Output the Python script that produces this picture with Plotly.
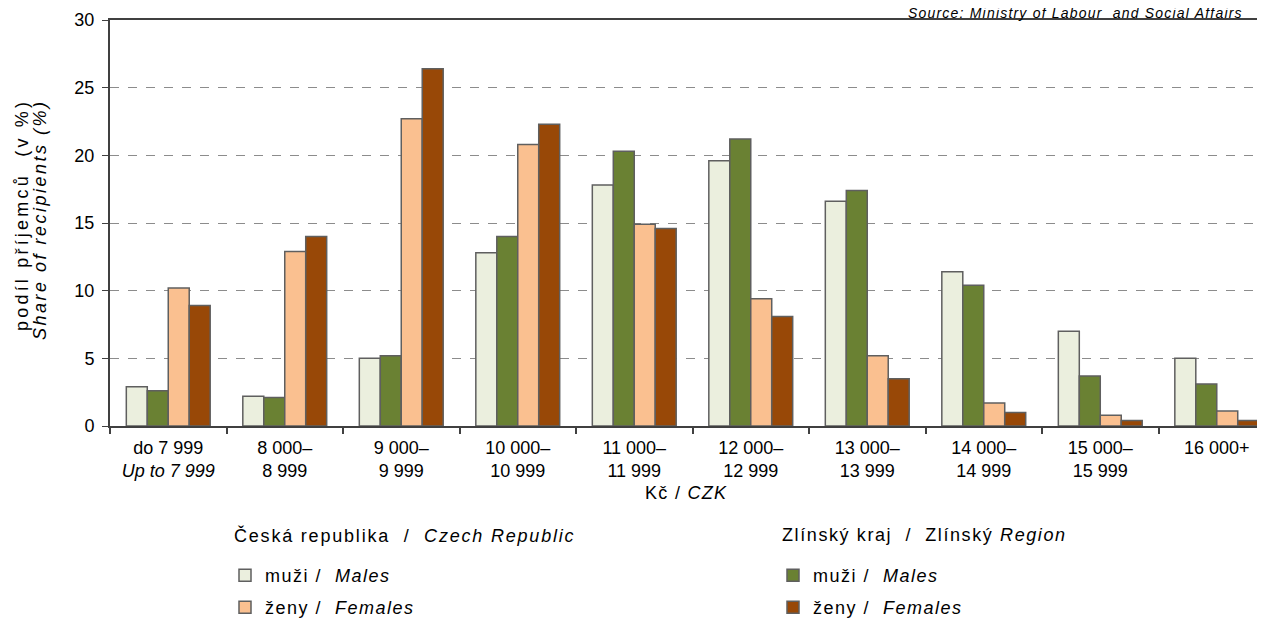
import plotly.graph_objects as go

categories = ["do 7 999<br><i>Up to 7 999</i>", "8 000–<br>8 999", "9 000–<br>9 999",
              "10 000–<br>10 999", "11 000–<br>11 999", "12 000–<br>12 999",
              "13 000–<br>13 999", "14 000–<br>14 999", "15 000–<br>15 999", "16 000+"]
cr_males = [2.9, 2.2, 5.0, 12.8, 17.8, 19.6, 16.6, 11.4, 7.0, 5.0]
zl_males = [2.6, 2.1, 5.2, 14.0, 20.3, 21.2, 17.4, 10.4, 3.7, 3.1]
cr_females = [10.2, 12.9, 22.7, 20.8, 14.9, 9.4, 5.2, 1.7, 0.8, 1.1]
zl_females = [8.9, 14.0, 26.4, 22.3, 14.6, 8.1, 3.5, 1.0, 0.4, 0.4]
y_ticks = [0, 5, 10, 15, 20, 25, 30]

FONT = "Liberation Sans, Arial, sans-serif"
W, H = 1257, 610
L, T, B = 102, 12, 192
PW, PH = W - L, H - T - B
line = dict(color="#5f5f5f", width=1.5)


def sp(text, ls):
    return f'<span style="letter-spacing:{ls}px">{text}</span>'


def legend_at(x_px, y_px):
    return dict(xref="container", yref="container", x=x_px / W, y=1 - y_px / H,
                xanchor="left", yanchor="top", font=dict(size=18),
                bgcolor="rgba(0,0,0,0)")


fig = go.Figure()
fig.add_trace(go.Bar(x=categories, y=cr_males, name=sp("muži /  <i>Males</i>", 1.5),
                     marker=dict(color="#EBEFDE", line=line), legend="legend"))
fig.add_trace(go.Bar(x=categories, y=zl_males, name=sp("muži /  <i>Males</i>", 1.5),
                     marker=dict(color="#6A8133", line=line), legend="legend3"))
fig.add_trace(go.Bar(x=categories, y=cr_females, name=sp("ženy /  <i>Females</i>", 1.5),
                     marker=dict(color="#FAC090", line=line), legend="legend2"))
fig.add_trace(go.Bar(x=categories, y=zl_females, name=sp("ženy /  <i>Females</i>", 1.5),
                     marker=dict(color="#984807", line=line), legend="legend4"))

fig.update_layout(
    width=W, height=H,
    margin=dict(l=L, r=0, t=T, b=B, autoexpand=False),
    paper_bgcolor="white", plot_bgcolor="white",
    font=dict(family=FONT, size=18, color="#000000"),
    barmode="group", bargap=0.28, bargroupgap=0,
    showlegend=True,
    legend=legend_at(217, 549),
    legend2=legend_at(217, 581),
    legend3=legend_at(765, 549),
    legend4=legend_at(765, 581),
    xaxis=dict(range=[-0.5, 9.414], showline=True, linecolor="#404040", linewidth=2,
               mirror=True,
               ticks="outside", tickson="boundaries", ticklen=6, tickcolor="#404040",
               tickwidth=1.5, showgrid=False, tickangle=0, automargin=False,
               ticklabelstandoff=4, tickfont=dict(size=18)),
    yaxis=dict(range=[0, 30], tickvals=y_ticks, showline=True, linecolor="#404040",
               linewidth=2, ticks="outside", ticklen=6, tickcolor="#404040",
               showgrid=True, gridcolor="#8c8c8c", griddash="dash", gridwidth=1.3,
               zeroline=False, tickfont=dict(size=18), automargin=False,
               ticklabelstandoff=4),
)


def px_x(x_fig):
    return (x_fig - L) / PW


def px_y(y_fig):
    return (H - B - y_fig) / PH


# source
fig.add_annotation(text=sp("<i>Source: Ministry of Labour  and Social Affairs</i>", 1.2),
                   xref="paper", yref="paper", x=px_x(1237), y=1, xanchor="right",
                   yanchor="bottom", yshift=-3, showarrow=False, font=dict(size=14))
# y axis title (two rotated lines)
fig.add_annotation(text=sp("podíl příjemců  (v %)", 3.2), xref="paper", yref="paper",
                   x=px_x(14), y=px_y(207), xanchor="center", yanchor="middle",
                   textangle=-90, showarrow=False, font=dict(size=18))
fig.add_annotation(text=sp("<i>Share of recipients (%)</i>", 2.5), xref="paper",
                   yref="paper", x=px_x(32), y=px_y(212), xanchor="center",
                   yanchor="middle", textangle=-90, showarrow=False, font=dict(size=18))
# x axis title
fig.add_annotation(text=sp("Kč / <i>CZK</i>", 1.3), xref="paper", yref="paper",
                   x=px_x(678), y=px_y(485), xanchor="center", yanchor="middle",
                   showarrow=False, font=dict(size=18))
# legend group titles
fig.add_annotation(text=sp("Česká republika  /  <i>Czech Republic</i>", 1.8),
                   xref="paper", yref="paper", x=px_x(224), y=px_y(527),
                   xanchor="left", yanchor="middle", showarrow=False,
                   font=dict(size=18))
fig.add_annotation(text=sp("Zlínský kraj  /  Zlínský <i>Region</i>", 1.6),
                   xref="paper", yref="paper", x=px_x(772), y=px_y(527),
                   xanchor="left", yanchor="middle", showarrow=False,
                   font=dict(size=18))

fig.write_html("out.html")
